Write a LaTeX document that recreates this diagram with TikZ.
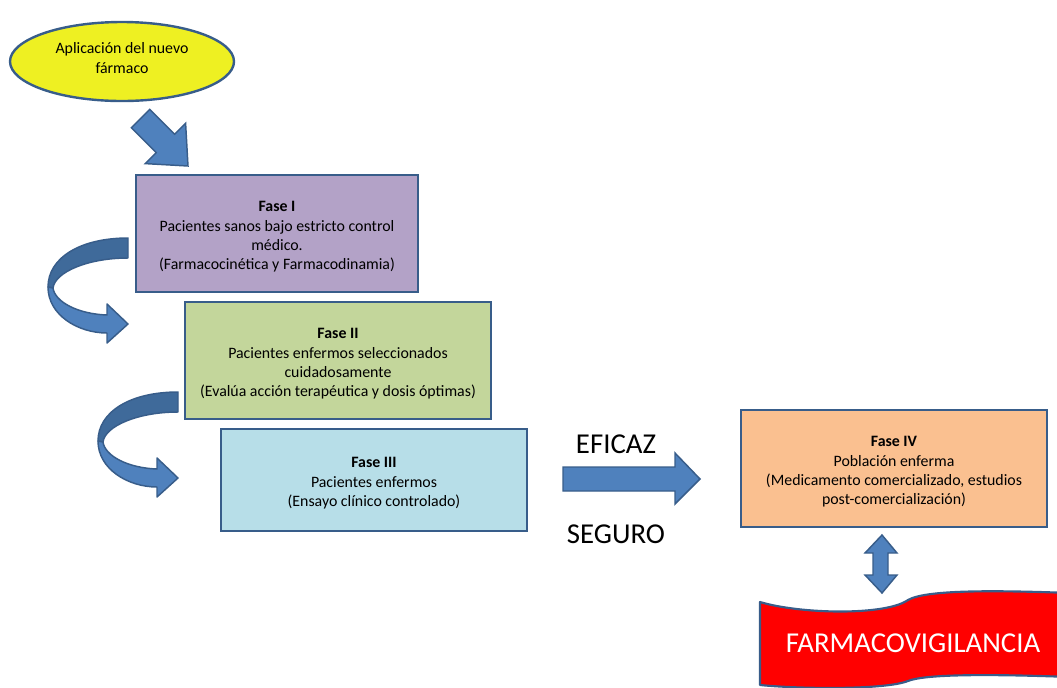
\documentclass[tikz,border=0pt]{standalone}
\usepackage{fontspec}
\setmainfont{Carlito}
\usetikzlibrary{shapes.geometric}
\definecolor{edge}{HTML}{385D8A}
\definecolor{arrfill}{HTML}{4F81BD}
\definecolor{arrdark}{HTML}{3F6A9A}
\definecolor{ylw}{HTML}{EEF022}
\definecolor{purp}{HTML}{B3A2C7}
\definecolor{grn}{HTML}{C3D69B}
\definecolor{lblue}{HTML}{B7DEE8}
\definecolor{orng}{HTML}{FAC090}
\tikzset{
  phasebox/.style={draw=edge, line width=1.6pt, rectangle, inner sep=0pt},
  phasetext/.style={align=center, inner sep=0pt, font=\fontsize{11.9}{14.5}\selectfont},
  blockarrow/.style={draw=edge, line width=1.1pt, fill=arrfill, line join=miter},
  bigword/.style={font=\fontsize{21.6}{26}\selectfont},
  curvarr/.pic={
    \fill[arrdark, draw=edge, line width=1.1pt, line join=round]
      (128,238) .. controls (80,238) and (48,258) .. (48,287) -- (53,288)
      .. controls (55,272) and (88,258) .. (128,258) -- cycle;
    \fill[arrfill, draw=edge, line width=1.1pt, line join=round]
      (48,287) .. controls (48,315) and (78,333) .. (107,333) -- (107,343) -- (128,324)
      -- (107,304) -- (107,315) .. controls (78,314) and (55,302) .. (53,288) -- cycle;
  }
}
\begin{document}
\begin{tikzpicture}[x=0.75pt, y=-0.75pt]
\useasboundingbox (0,0) rectangle (1057,687);

% start ellipse
\node[ellipse, draw=edge, line width=1.8pt, fill=ylw, minimum width=168pt, minimum height=59.25pt,
  inner sep=0pt] (start) at (122,61.5) {};
\node[phasetext] (startt) at ([yshift=2.5pt]start.center) {Aplicación del nuevo\\fármaco};

% diagonal arrow
\path[blockarrow] (149.8,109.4) -- (174.6,134.2) -- (185.6,123.2) -- (188,166)
  -- (145.2,163.6) -- (156.2,152.6) -- (131.4,127.8) -- cycle;

% phase boxes
\node[phasebox, fill=purp, minimum width=211.5pt, minimum height=87.75pt] (f1) at (277,233.5) {};
\node[phasetext] (f1t) at ([yshift=-2.5pt]f1.center)
  {\textbf{Fase I}\\Pacientes sanos bajo estricto control\\médico.\\(Farmacocinética y Farmacodinamia)};
\node[phasebox, fill=grn, minimum width=229.5pt, minimum height=87.75pt] (f2) at (338,360.5) {};
\node[phasetext] (f2t) at ([yshift=-2.5pt]f2.center)
  {\textbf{Fase II}\\Pacientes enfermos seleccionados\\cuidadosamente\\(Evalúa acción terapéutica y dosis óptimas)};
\node[phasebox, fill=lblue, minimum width=229.5pt, minimum height=76.5pt] (f3) at (374,480) {};
\node[phasetext] (f3t) at ([yshift=-2.5pt]f3.center)
  {\textbf{Fase III}\\Pacientes enfermos\\(Ensayo clínico controlado)};
\node[phasebox, fill=orng, minimum width=229.5pt, minimum height=87.75pt] (f4) at (894,468.5) {};
\node[phasetext] (f4t) at ([yshift=-2.5pt]f4.center)
  {\textbf{Fase IV}\\Población enferma\\(Medicamento comercializado, estudios\\post-comercialización)};

% curved arrows
\pic at (0,0) {curvarr};
\pic at (50,154) {curvarr};

% right arrow
\path[blockarrow] (563,467) -- (675,467) -- (675,453) -- (700,479) -- (675,504)
  -- (675,491) -- (563,491) -- cycle;
\node[bigword] (eficaz) at (616,444) {EFICAZ};
\node[bigword] (seguro) at (616,534) {SEGURO};

% double arrow
\path[blockarrow] (882,535) -- (897,553) -- (888,553) -- (888,575) -- (897,575) -- (882,593)
  -- (865,575) -- (873,575) -- (873,553) -- (865,553) -- cycle;

% wave shape
\begin{scope}
\clip (0,0) rectangle (1057,687);
\path[draw=edge, line width=1.6pt, fill=red, line join=round]
  (760,602) .. controls (800,614) and (885,616) .. (908,600)
  .. controls (925,590) and (990,590) .. (1070,593)
  -- (1070,677)
  .. controls (990,674) and (925,674) .. (908,681)
  .. controls (885,690) and (800,689) .. (760,685) -- cycle;
\end{scope}
\node[text=white, font=\fontsize{21.6}{26}\selectfont] (fv) at (913,643) {FARMACOVIGILANCIA};
\end{tikzpicture}
\end{document}
